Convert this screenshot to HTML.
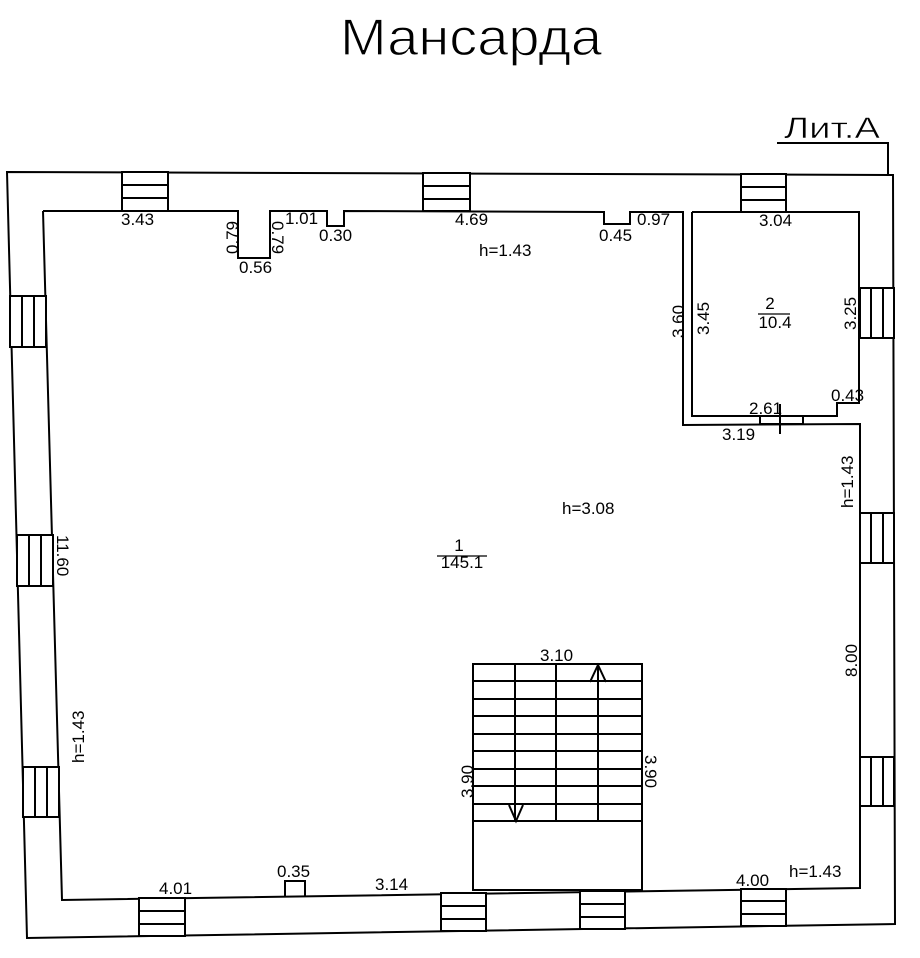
<!DOCTYPE html>
<html><head><meta charset="utf-8"><style>
html,body{margin:0;padding:0;background:#fff}
svg{display:block}
text{font-family:"Liberation Sans","DejaVu Sans",sans-serif;fill:#000}
</style></head><body>
<svg width="920" height="958" viewBox="0 0 920 958" xmlns="http://www.w3.org/2000/svg">
<g fill="none" stroke="#000" stroke-width="2">
<polygon points="7,172 893,175 895,924 27,938"/>
<polyline points="777,143 888,143 888,175"/>
<polyline points="43,211 238,211 238,258 270,258 270,211 327,211 327,226 344,226 344,211 604,212 604,224 630,224 630,212 683,212 683,425 860,424 860,888 62,900 43,211"/>
<polyline points="692,212 859,212 859,403 837,403 837,416 692,416 692,212"/>
<rect x="760" y="416" width="43" height="8"/>
<line x1="780" y1="404" x2="780" y2="434"/>
<polyline points="285,896 285,881 305,881 305,896" />
<rect x="473" y="664" width="169" height="226" fill="#fff"/>
<line x1="515" y1="664" x2="515" y2="821"/>
<line x1="556" y1="664" x2="556" y2="821"/>
<line x1="598" y1="664" x2="598" y2="821"/>
<line x1="473" y1="821" x2="642" y2="821"/>
<line x1="473" y1="681" x2="642" y2="681"/>
<line x1="473" y1="699" x2="642" y2="699"/>
<line x1="473" y1="716" x2="642" y2="716"/>
<line x1="473" y1="734" x2="642" y2="734"/>
<line x1="473" y1="751" x2="642" y2="751"/>
<line x1="473" y1="769" x2="642" y2="769"/>
<line x1="473" y1="786" x2="642" y2="786"/>
<line x1="473" y1="804" x2="642" y2="804"/>
<polyline points="590,682 598,665 606,682"/>
<polyline points="509,805 516,821 523,805"/>
</g>
<g fill="#fff" stroke="#000" stroke-width="2">
<rect x="122" y="172" width="46" height="39"/><line x1="122" y1="185" x2="168" y2="185"/><line x1="122" y1="198" x2="168" y2="198"/>
<rect x="423" y="173" width="47" height="38"/><line x1="423" y1="186" x2="470" y2="186"/><line x1="423" y1="199" x2="470" y2="199"/>
<rect x="741" y="174" width="45" height="38"/><line x1="741" y1="187" x2="786" y2="187"/><line x1="741" y1="200" x2="786" y2="200"/>
<rect x="10" y="296" width="36" height="51"/><line x1="22" y1="296" x2="22" y2="347"/><line x1="34" y1="296" x2="34" y2="347"/>
<rect x="17" y="535" width="36" height="51"/><line x1="29" y1="535" x2="29" y2="586"/><line x1="41" y1="535" x2="41" y2="586"/>
<rect x="23" y="767" width="36" height="50"/><line x1="35" y1="767" x2="35" y2="817"/><line x1="47" y1="767" x2="47" y2="817"/>
<rect x="860" y="288" width="34" height="50"/><line x1="871" y1="288" x2="871" y2="338"/><line x1="883" y1="288" x2="883" y2="338"/>
<rect x="860" y="513" width="34" height="50"/><line x1="871" y1="513" x2="871" y2="563"/><line x1="883" y1="513" x2="883" y2="563"/>
<rect x="860" y="757" width="34" height="49"/><line x1="871" y1="757" x2="871" y2="806"/><line x1="883" y1="757" x2="883" y2="806"/>
<rect x="139" y="898" width="46" height="38"/><line x1="139" y1="911" x2="185" y2="911"/><line x1="139" y1="924" x2="185" y2="924"/>
<rect x="441" y="893" width="45" height="38"/><line x1="441" y1="906" x2="486" y2="906"/><line x1="441" y1="919" x2="486" y2="919"/>
<rect x="580" y="891" width="45" height="38"/><line x1="580" y1="904" x2="625" y2="904"/><line x1="580" y1="917" x2="625" y2="917"/>
<rect x="741" y="889" width="45" height="37"/><line x1="741" y1="901" x2="786" y2="901"/><line x1="741" y1="914" x2="786" y2="914"/>
</g>
<text x="340" y="55" font-size="52" textLength="262" lengthAdjust="spacingAndGlyphs" stroke="#fff" stroke-width="1.2">Мансарда</text>
<text x="784" y="138" font-size="30" textLength="96" lengthAdjust="spacingAndGlyphs" stroke="#fff" stroke-width="0.6">Лит.А</text>
<g font-size="17">
<text x="121" y="225">3.43</text>
<text x="239" y="273">0.56</text>
<text x="285" y="224">1.01</text>
<text x="319" y="241">0.30</text>
<text x="455" y="225">4.69</text>
<text x="479" y="256">h=1.43</text>
<text x="599" y="241">0.45</text>
<text x="637" y="225">0.97</text>
<text x="759" y="226">3.04</text>
<text x="770" y="309" text-anchor="middle">2</text>
<text x="775" y="328" text-anchor="middle">10.4</text>
<line x1="758" y1="314" x2="790" y2="314" stroke="#000" stroke-width="1.2"/>
<text x="749" y="414">2.61</text>
<text x="831" y="401">0.43</text>
<text x="722" y="440">3.19</text>
<text x="562" y="514">h=3.08</text>
<text x="459" y="551" text-anchor="middle">1</text>
<text x="462" y="568" text-anchor="middle">145.1</text>
<line x1="437" y1="556" x2="487" y2="556" stroke="#000" stroke-width="1.2"/>
<text x="540" y="661">3.10</text>
<text x="159" y="894">4.01</text>
<text x="277" y="877">0.35</text>
<text x="375" y="890">3.14</text>
<text x="736" y="886">4.00</text>
<text x="789" y="877">h=1.43</text>
<text transform="translate(238,254) rotate(-90)">0.79</text>
<text transform="translate(272,221) rotate(90)">0.79</text>
<text transform="translate(684,338) rotate(-90)">3.60</text>
<text transform="translate(709,335) rotate(-90)">3.45</text>
<text transform="translate(856,330) rotate(-90)">3.25</text>
<text transform="translate(853,508) rotate(-90)">h=1.43</text>
<text transform="translate(857,677) rotate(-90)">8.00</text>
<text transform="translate(57,535) rotate(90)">11.60</text>
<text transform="translate(84,763) rotate(-90)">h=1.43</text>
<text transform="translate(473,798) rotate(-90)">3.90</text>
<text transform="translate(645,755) rotate(90)">3.90</text>
</g>
</svg>
</body></html>
